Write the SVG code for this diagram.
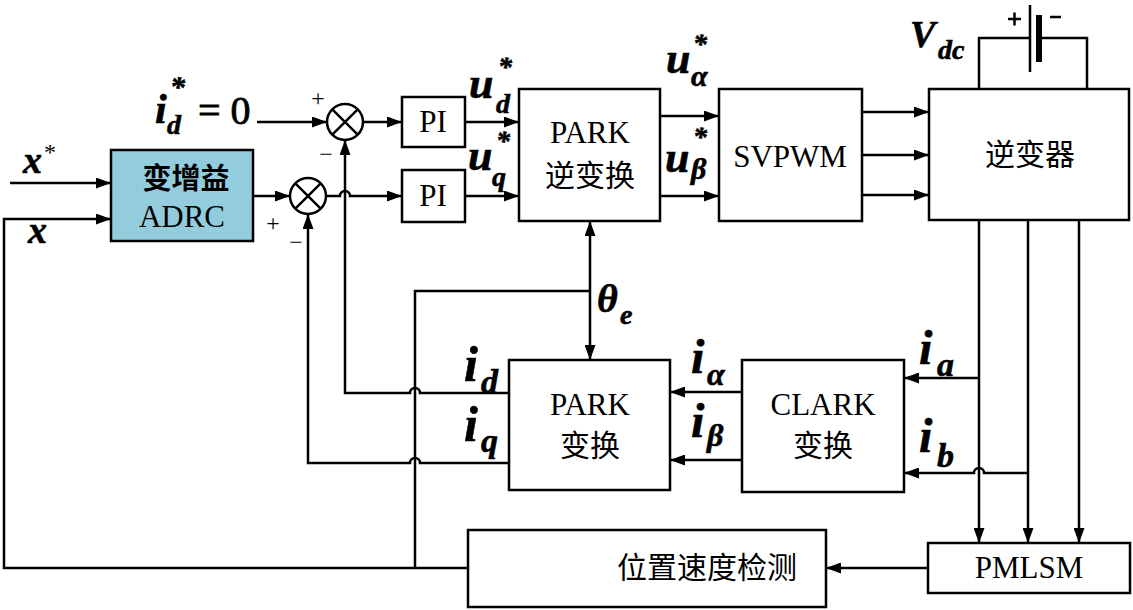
<svg xmlns="http://www.w3.org/2000/svg" width="1133" height="610" viewBox="0 0 1133 610">
<style>
.box{fill:#fff;stroke:#000;stroke-width:2.5}
.adrc{fill:#93CDDD;stroke:#000;stroke-width:2.5}
.ln{fill:none;stroke:#000;stroke-width:2.5}
.arr{fill:none;stroke:#000;stroke-width:2.5;marker-end:url(#ah)}
.t{font-family:"Liberation Serif","Times New Roman",serif;font-size:31px;fill:#000;text-anchor:middle}
.c{font-family:"Noto Sans CJK SC","Noto Sans CJK JP",sans-serif;font-size:30px;fill:#000;text-anchor:middle}
.cb{font-family:"Noto Sans CJK SC","Noto Sans CJK JP",sans-serif;font-size:29px;font-weight:bold;fill:#000;text-anchor:middle}
.m{font-family:"Liberation Serif","Times New Roman",serif;font-style:italic;font-weight:bold;fill:#000;stroke:#000;stroke-width:0.6}
.s{font-family:"Liberation Serif","Times New Roman",serif;font-size:24px;fill:#000;text-anchor:middle}
</style>
<defs>
<marker id="ah" markerWidth="15" markerHeight="11" refX="15" refY="5.5" orient="auto" markerUnits="userSpaceOnUse">
<path d="M0,0 L15,5.5 L0,11 z" fill="#000"/>
</marker>
</defs>

<g id="connectors">
<path class="arr" d="M10,183 H111"/>
<path class="arr" d="M468,568 H4 V219 H111"/>
<path class="arr" d="M257,122 H327"/>
<path class="arr" d="M253,196 H290"/>
<path class="arr" d="M363,122 H402"/>
<path class="arr" d="M326,196 H340 A5,5 0 0 1 350,196 H402"/>
<path class="arr" d="M465,122 H519"/>
<path class="arr" d="M465,196 H519"/>
<path class="arr" d="M660,116 H719"/>
<path class="arr" d="M660,196 H719"/>
<path class="arr" d="M862,112 H929"/>
<path class="arr" d="M862,155 H929"/>
<path class="arr" d="M862,195 H929"/>
<path class="ln" d="M979,89 V38 H1030"/>
<path class="ln" d="M1039,38 H1087 V89"/>
<path class="arr" d="M979,220 V543"/>
<path class="arr" d="M1028,220 V543"/>
<path class="arr" d="M1079,220 V543"/>
<path class="arr" d="M979,378 H904"/>
<path class="arr" d="M1028,473 H984 A5,5 0 0 0 974,473 H904"/>
<path class="arr" d="M742,392 H670"/>
<path class="arr" d="M742,460 H670"/>
<path class="arr" d="M509,393 H420 A5,5 0 0 0 410,393 H345 V140"/>
<path class="arr" d="M509,463 H420 A5,5 0 0 0 410,463 H308 V214"/>
<path class="arr" d="M590,291 V221"/>
<path class="arr" d="M590,291 V360"/>
<path class="ln" d="M415,568 V291 H590"/>
<path class="arr" d="M928,568 H826"/>
</g>

<g id="battery">
<line x1="1030" y1="5" x2="1030" y2="72" stroke="#000" stroke-width="2.5"/>
<line x1="1039" y1="15" x2="1039" y2="62" stroke="#000" stroke-width="6"/>
<path class="ln" d="M1008,19 H1021 M1014.5,12.5 V25.5" stroke-width="3"/>
<line x1="1050" y1="17" x2="1061" y2="17" stroke="#000" stroke-width="2.5"/>
</g>

<g id="sum1">
<circle cx="345" cy="122" r="18" class="box"/>
<path class="ln" d="M332.3,109.3 L357.7,134.7 M357.7,109.3 L332.3,134.7"/>
<text x="318" y="106" class="s">+</text>
<text x="326" y="162" class="s">−</text>
</g>
<g id="sum2">
<circle cx="308" cy="196" r="18" class="box"/>
<path class="ln" d="M295.3,183.3 L320.7,208.7 M320.7,183.3 L295.3,208.7"/>
<text x="273" y="231" class="s">+</text>
<text x="296" y="250" class="s">−</text>
</g>

<g id="adrc">
<rect x="111" y="150" width="142" height="91" class="adrc"/>
<text x="186" y="189" class="cb">变增益</text>
<text x="182" y="227" class="t">ADRC</text>
</g>
<g id="pi1">
<rect x="402" y="97" width="63" height="50" class="box"/>
<text x="433" y="132" class="t">PI</text>
</g>
<g id="pi2">
<rect x="402" y="170" width="63" height="52" class="box"/>
<text x="433" y="206" class="t">PI</text>
</g>
<g id="parkinv">
<rect x="519" y="89" width="141" height="132" class="box"/>
<text x="590" y="143" class="t">PARK</text>
<text x="590" y="186" class="c">逆变换</text>
</g>
<g id="svpwm">
<rect x="719" y="89" width="143" height="132" class="box"/>
<text x="790" y="167" class="t">SVPWM</text>
</g>
<g id="inverter">
<rect x="929" y="89" width="200" height="131" class="box"/>
<text x="1030" y="165" class="c">逆变器</text>
</g>
<g id="park">
<rect x="509" y="360" width="161" height="130" class="box"/>
<text x="590" y="415" class="t">PARK</text>
<text x="590" y="456" class="c">变换</text>
</g>
<g id="clark">
<rect x="742" y="360" width="162" height="132" class="box"/>
<text x="823" y="415" class="t">CLARK</text>
<text x="823" y="456" class="c">变换</text>
</g>
<g id="pmlsm">
<rect x="928" y="543" width="202" height="50" class="box"/>
<text x="1029" y="578" class="t">PMLSM</text>
</g>
<g id="detect">
<rect x="468" y="530" width="358" height="77" class="box"/>
<text x="707" y="578" class="c" font-size="31">位置速度检测</text>
</g>

<g id="labels">
<text class="m" x="23" y="173" font-size="38">x</text>
<text x="50" y="160" class="s" font-size="22">*</text>
<text class="m" x="28" y="243" font-size="38">x</text>

<text class="m" x="155" y="123" font-size="42">i</text>
<text class="m" x="167" y="134" font-size="28">d</text>
<text class="m" x="170" y="97" font-size="30">*</text>
<text x="198" y="124" font-family="Liberation Serif,serif" font-size="40" stroke="#000" stroke-width="0.8">= 0</text>

<text class="m" x="469" y="98" font-size="44">u</text>
<text class="m" x="496" y="113" font-size="28">d</text>
<text class="m" x="498" y="76" font-size="28">*</text>
<text class="m" x="468" y="170" font-size="44">u</text>
<text class="m" x="492" y="186" font-size="28">q</text>
<text class="m" x="496" y="150" font-size="28">*</text>

<text class="m" x="666" y="73" font-size="44">u</text>
<text class="m" x="691" y="86" font-size="30">α</text>
<text class="m" x="693" y="53" font-size="28">*</text>
<text class="m" x="665" y="172" font-size="44">u</text>
<text class="m" x="691" y="179" font-size="30">β</text>
<text class="m" x="693" y="146" font-size="28">*</text>

<text class="m" x="910" y="47" font-size="38">V</text>
<text class="m" x="938" y="59" font-size="28">dc</text>

<text class="m" x="597" y="312" font-size="40">θ</text>
<text class="m" x="620" y="324" font-size="28">e</text>

<text class="m" x="464" y="381" font-size="50">i</text>
<text class="m" x="481" y="393" font-size="34">d</text>
<text class="m" x="464" y="441" font-size="50">i</text>
<text class="m" x="481" y="452" font-size="34">q</text>

<text class="m" x="691" y="373" font-size="48">i</text>
<text class="m" x="707" y="385" font-size="32">α</text>
<text class="m" x="691" y="437" font-size="48">i</text>
<text class="m" x="707" y="446" font-size="32">β</text>

<text class="m" x="919" y="364" font-size="48">i</text>
<text class="m" x="937" y="376" font-size="34">a</text>
<text class="m" x="919" y="452" font-size="48">i</text>
<text class="m" x="937" y="467" font-size="34">b</text>
</g>
</svg>
